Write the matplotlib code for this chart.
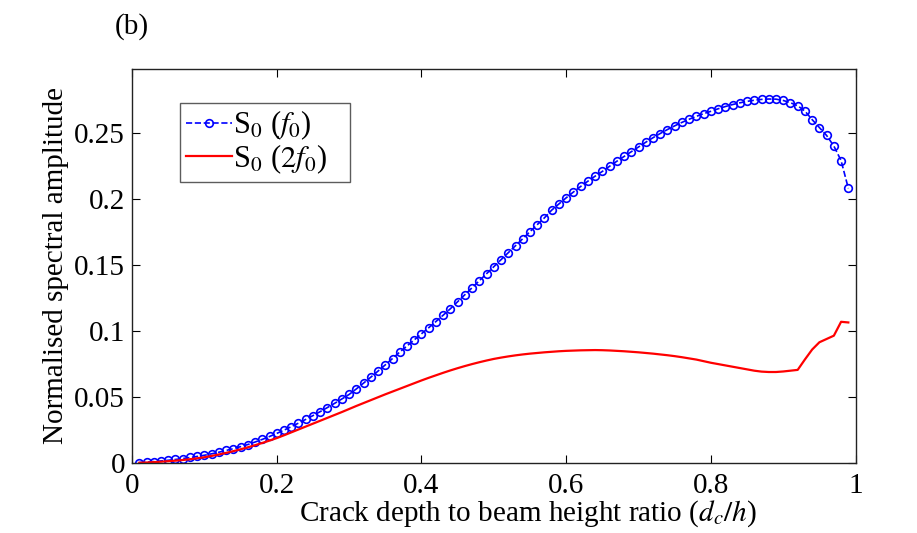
import matplotlib
matplotlib.use("Agg")
import matplotlib.pyplot as plt

plt.rcParams["font.family"] = ["Liberation Serif", "DejaVu Serif"]
plt.rcParams["mathtext.fontset"] = "stix"

# crack depth ratio, 0.01 .. 0.99
depth_ratio = [round(0.01 * i, 2) for i in range(1, 100)]

s0_f0 = [
    0.0005, 0.0008, 0.0012, 0.0017, 0.0022, 0.0028, 0.0035, 0.0043, 0.0051, 0.0060,
    0.0071, 0.0083, 0.0096, 0.0110, 0.0125, 0.0141, 0.0160, 0.0180, 0.0202, 0.0225,
    0.0250, 0.0276, 0.0303, 0.0331, 0.0360, 0.0390, 0.0421, 0.0453, 0.0486, 0.0520,
    0.0562, 0.0606, 0.0651, 0.0697, 0.0744, 0.0792, 0.0841, 0.0887, 0.0933, 0.0979,
    0.1025, 0.1072, 0.1120, 0.1169, 0.1222, 0.1275, 0.1328, 0.1381, 0.1434, 0.1487,
    0.1540, 0.1593, 0.1646, 0.1699, 0.1752, 0.1805, 0.1857, 0.1915, 0.1962, 0.2008,
    0.2052, 0.2094, 0.2134, 0.2172, 0.2208, 0.2247, 0.2285, 0.2321, 0.2357, 0.2393,
    0.2429, 0.2463, 0.2495, 0.2525, 0.2553, 0.2579, 0.2603, 0.2625, 0.2645, 0.2663,
    0.2682, 0.2699, 0.2714, 0.2727, 0.2738, 0.2747, 0.2753, 0.2756, 0.2755, 0.2745,
    0.2728, 0.2705, 0.2665, 0.2600, 0.2540, 0.2480, 0.2400, 0.2290, 0.2080,
]

s0_2f0 = [
    0.0003, 0.0005, 0.0008, 0.0011, 0.0015, 0.0019, 0.0024, 0.0030, 0.0037, 0.0045,
    0.0055, 0.0066, 0.0078, 0.0091, 0.0105, 0.0120, 0.0136, 0.0153, 0.0171, 0.0190,
    0.0211, 0.0233, 0.0255, 0.0277, 0.0299, 0.0321, 0.0343, 0.0365, 0.0387, 0.0410,
    0.0433, 0.0455, 0.0477, 0.0499, 0.0521, 0.0542, 0.0563, 0.0584, 0.0605, 0.0626,
    0.0646, 0.0665, 0.0684, 0.0702, 0.0719, 0.0735, 0.0750, 0.0764, 0.0777, 0.0789,
    0.0799, 0.0808, 0.0816, 0.0823, 0.0829, 0.0834, 0.0839, 0.0843, 0.0847, 0.0850,
    0.0852, 0.0854, 0.0855, 0.0856, 0.0855, 0.0853, 0.0850, 0.0847, 0.0843, 0.0839,
    0.0834, 0.0829, 0.0823, 0.0817, 0.0810, 0.0802, 0.0793, 0.0784, 0.0772, 0.0760,
    0.0750, 0.0740, 0.0730, 0.0720, 0.0710, 0.0700, 0.0693, 0.0690, 0.0690, 0.0694,
    0.0700, 0.0706, 0.0785, 0.0860, 0.0915, 0.0940, 0.0965, 0.1070, 0.1065,
]

x_ticks = [0, 0.2, 0.4, 0.6, 0.8, 1]
x_tick_labels = ["0", "0.2", "0.4", "0.6", "0.8", "1"]
y_ticks = [0, 0.05, 0.1, 0.15, 0.2, 0.25]
y_tick_labels = ["0", "0.05", "0.1", "0.15", "0.2", "0.25"]

fig = plt.figure(figsize=(9.17, 5.33), dpi=100)
ax = fig.add_axes([0.144, 0.131, 0.789, 0.740])

ax.plot(depth_ratio, s0_f0, "--o", color="blue", markersize=5.5,
        markerfacecolor="none", markeredgewidth=1.2, linewidth=1.2,
        label=r"S$_0$ ($f_0$)")
ax.plot(depth_ratio, s0_2f0, "-", color="red", linewidth=1.6,
        label=r"S$_0$ ($2f_0$)")

ax.set_xlim(0, 1)
ax.set_ylim(0, 0.2985)
ax.set_xticks(x_ticks)
ax.set_xticklabels(x_tick_labels)
ax.set_yticks(y_ticks)
ax.set_yticklabels(y_tick_labels)
ax.tick_params(direction="in", top=True, right=True, length=6,
               labelsize=21)
ax.tick_params(axis="x", pad=7)
ax.tick_params(axis="y", pad=5)
for s in ax.spines.values():
    s.set_linewidth(1.0)
    s.set_color("#222222")

ax.set_xlabel(r"Crack depth to beam height ratio ($d_c/h$)", fontsize=21)
ax.xaxis.set_label_coords(0.547, -0.088)
ax.set_ylabel("Normalised spectral amplitude", fontsize=21, labelpad=4)

leg = ax.legend(loc="upper left", bbox_to_anchor=(0.066, 0.914),
                borderaxespad=0, fontsize=22, frameon=True, fancybox=False,
                edgecolor="#333333", handlelength=1.5, handletextpad=0.05,
                borderpad=0.2, labelspacing=0.0)
leg.get_frame().set_linewidth(1.0)
# extra right padding inside the box, as in the reference
for t in leg.get_texts():
    t.set_text(t.get_text() + "   ")

fig.text(0.144, 0.951, "(b)", fontsize=21, ha="center", va="center")

fig.savefig("out.png", dpi=100)
